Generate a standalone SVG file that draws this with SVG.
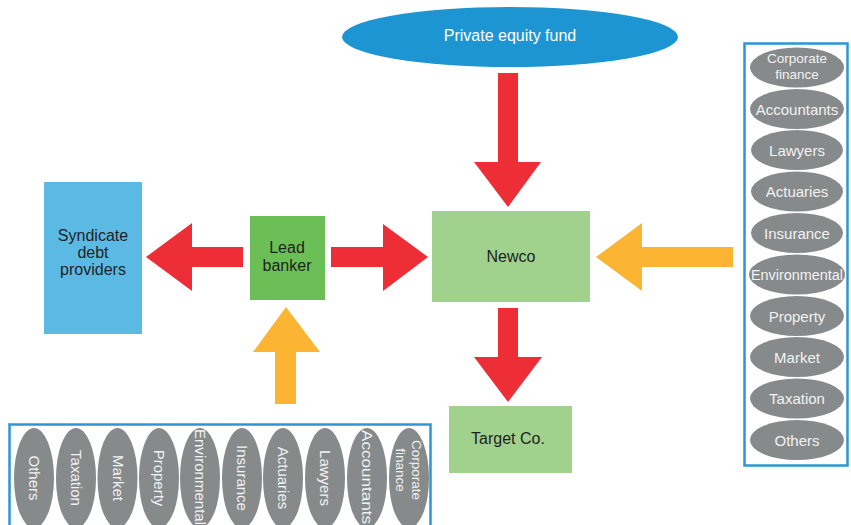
<svg xmlns="http://www.w3.org/2000/svg" width="851" height="525" viewBox="0 0 851 525">
<style>
text{font-family:"Liberation Sans",Arial,sans-serif;}
.dark{fill:#1f1f1f;font-size:16px;text-anchor:middle;}
.adv{fill:#868a8b;}
.at{fill:#f2f2f2;font-size:15px;text-anchor:middle;}
.at2{fill:#f2f2f2;font-size:13.5px;text-anchor:middle;}
.red{fill:#ee2e37;}
.org{fill:#fbb533;}
.frame{fill:none;stroke:#2a96d6;stroke-width:2.5;}
</style>
<rect width="851" height="525" fill="#ffffff"/>

<g id="connectors">
<polygon class="red" points="498,73 518,73 518,162 541,162 508,207 474,162 498,162"/>
<polygon class="red" points="331,247 383,247 383,224 428,257 383,291 383,267 331,267"/>
<polygon class="red" points="243,247 192,247 192,223 146,257 192,291 192,267 243,267"/>
<polygon class="org" points="733,247 642,247 642,223 596,257 642,291 642,267 733,267"/>
<polygon class="org" points="275,404 275,352 253,352 286,307 320,352 296,352 296,404"/>
<polygon class="red" points="498,308 518,308 518,357 542,357 508,402 474,357 498,357"/>
</g>

<g id="pe-fund">
<ellipse cx="510" cy="37" rx="168" ry="30" fill="#1e95d3"/>
<text x="510" y="41" font-size="16" fill="#ffffff" text-anchor="middle">Private equity fund</text>
</g>

<g id="newco">
<rect x="432" y="211" width="158" height="91" fill="#a0d28e"/>
<text class="dark" x="511" y="262">Newco</text>
</g>

<g id="lead-banker">
<rect x="250" y="216" width="75" height="84" fill="#6cbf56"/>
<text class="dark" x="287" y="253">Lead</text>
<text class="dark" x="287" y="271">banker</text>
</g>

<g id="syndicate">
<rect x="44" y="182" width="98" height="152" fill="#5bbae3"/>
<text class="dark" x="93" y="241">Syndicate</text>
<text class="dark" x="93" y="258">debt</text>
<text class="dark" x="93" y="275">providers</text>
</g>

<g id="target">
<rect x="449" y="406" width="123" height="67" fill="#a0d28e"/>
<text class="dark" x="508" y="444">Target Co.</text>
</g>

<g id="advisers-right">
<rect class="frame" x="744.5" y="43.5" width="103" height="422"/>
<ellipse class="adv" cx="797" cy="67.5" rx="47" ry="20"/>
<text class="at2" x="797" y="63">Corporate</text>
<text class="at2" x="797" y="79">finance</text>
<ellipse class="adv" cx="797" cy="109" rx="47" ry="20"/>
<text class="at" x="797" y="114.5">Accountants</text>
<ellipse class="adv" cx="797" cy="150" rx="46" ry="20"/>
<text class="at" x="797" y="155.5">Lawyers</text>
<ellipse class="adv" cx="797" cy="191.5" rx="46" ry="20"/>
<text class="at" x="797" y="197">Actuaries</text>
<ellipse class="adv" cx="797" cy="233" rx="46" ry="20"/>
<text class="at" x="797" y="238.5">Insurance</text>
<ellipse class="adv" cx="797" cy="274.5" rx="48" ry="20"/>
<text class="at" x="797" y="280" textLength="92" lengthAdjust="spacingAndGlyphs">Environmental</text>
<ellipse class="adv" cx="797" cy="316" rx="47" ry="20"/>
<text class="at" x="797" y="321.5">Property</text>
<ellipse class="adv" cx="797" cy="357" rx="47" ry="20"/>
<text class="at" x="797" y="362.5">Market</text>
<ellipse class="adv" cx="797" cy="398.5" rx="47" ry="20"/>
<text class="at" x="797" y="404">Taxation</text>
<ellipse class="adv" cx="797" cy="440" rx="47" ry="20"/>
<text class="at" x="797" y="445.5">Others</text>
</g>

<g id="advisers-bottom">
<rect class="frame" x="9.5" y="424.5" width="421" height="110"/>
<ellipse class="adv" cx="34" cy="478" rx="20" ry="50"/>
<text class="at" transform="translate(34,478) rotate(90)" y="5">Others</text>
<ellipse class="adv" cx="76" cy="478" rx="20" ry="50"/>
<text class="at" transform="translate(76,478) rotate(90)" y="5">Taxation</text>
<ellipse class="adv" cx="117.5" cy="478" rx="20" ry="50"/>
<text class="at" transform="translate(117.5,478) rotate(90)" y="5">Market</text>
<ellipse class="adv" cx="159" cy="478" rx="20" ry="50"/>
<text class="at" transform="translate(159,478) rotate(90)" y="5">Property</text>
<ellipse class="adv" cx="200" cy="478" rx="20" ry="50"/>
<text class="at" transform="translate(200,477) rotate(90)" y="5" textLength="96" lengthAdjust="spacingAndGlyphs">Environmental</text>
<ellipse class="adv" cx="242" cy="478" rx="20" ry="50"/>
<text class="at" transform="translate(242,478) rotate(90)" y="5">Insurance</text>
<ellipse class="adv" cx="283" cy="478" rx="20" ry="50"/>
<text class="at" transform="translate(283,478) rotate(90)" y="5">Actuaries</text>
<ellipse class="adv" cx="325" cy="478" rx="20" ry="50"/>
<text class="at" transform="translate(325,478) rotate(90)" y="5">Lawyers</text>
<ellipse class="adv" cx="367" cy="478" rx="20" ry="50"/>
<text class="at" transform="translate(367,477) rotate(90)" y="5" textLength="94" lengthAdjust="spacingAndGlyphs">Accountants</text>
<ellipse class="adv" cx="409" cy="478" rx="20" ry="50"/>
<text class="at2" transform="translate(409,470) rotate(90)" y="-3">Corporate</text>
<text class="at2" transform="translate(409,470) rotate(90)" y="13">finance</text>
</g>
</svg>
